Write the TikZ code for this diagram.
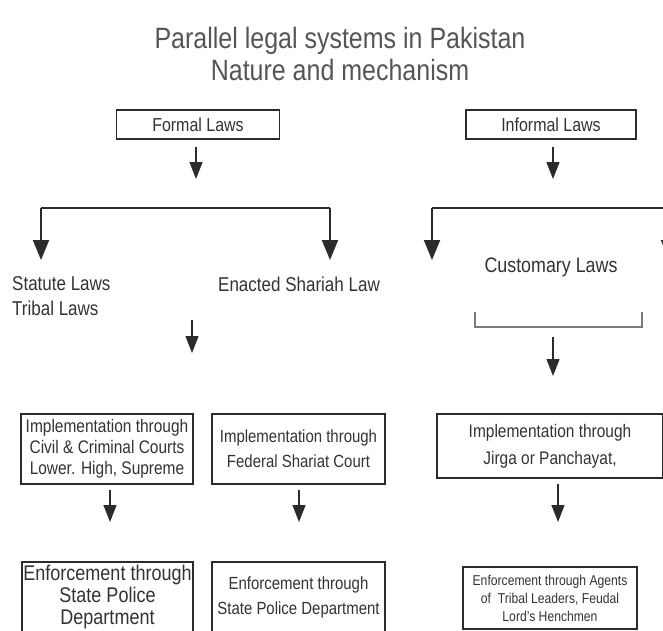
\documentclass[tikz,border=0pt]{standalone}
\usepackage{fontspec}
\setmainfont[FakeStretch=0.85]{Liberation Sans}
\usetikzlibrary{arrows.meta}
\definecolor{ink}{HTML}{2B2B2B}
\definecolor{txt}{HTML}{333333}
\definecolor{ttlgray}{HTML}{555555}
\definecolor{brkgray}{HTML}{7A7A7A}

\begin{document}
\begin{tikzpicture}[x=1pt, y=-1pt,
    lawbox/.style={rectangle, draw=ink, line width=1.3pt, inner sep=1pt,
                   align=center, text=txt, font=\fontsize{18.2}{21}\selectfont},
    lbl/.style={inner sep=0pt, text=txt, font=\fontsize{20}{25}\selectfont},
    arrbig/.style={-{Triangle[width=16pt,length=20pt]}, line width=2pt, ink},
    arrsmall/.style={-{Triangle[width=13pt,length=17pt]}, line width=1.3pt, ink},
    brk/.style={line width=2pt, ink}
]
\useasboundingbox (0,0) rectangle (663,630);
\clip (0,0) rectangle (663,630);

% title
\node[text=ttlgray, align=center, font=\fontsize{29.4}{32}\selectfont] (title) at (340,54)
  {Parallel legal systems in Pakistan\\Nature and mechanism};

% top boxes
\node[lawbox, minimum width=163pt, minimum height=29pt, font=\fontsize{18.8}{20}\selectfont] (formal) at (198,124.5) {Formal Laws};
\node[lawbox, minimum width=170pt, minimum height=29pt, font=\fontsize{18.8}{20}\selectfont] (informal) at (551,124.5) {Informal Laws};

\coordinate (formaltip) at (196,179);
\coordinate (informaltip) at (553,179);
\draw[arrsmall, shorten <=7pt] (formal.south -| formaltip) -- (formaltip);
\draw[arrsmall, shorten <=7pt] (informal.south -| informaltip) -- (informaltip);

% left branch
\coordinate (fbl) at (41,208);
\coordinate (fbr) at (330,208);
\coordinate (fbltip) at (41,260);
\coordinate (fbrtip) at (330,260);
\draw[brk] (fbl) -- (fbr);
\draw[arrbig] (fbl) -- (fbltip);
\draw[arrbig] (fbr) -- (fbrtip);

% right branch
\coordinate (ibl) at (432,208);
\coordinate (ibr) at (669,208);
\coordinate (ibltip) at (432,260);
\coordinate (ibrtip) at (669,260);
\draw[brk] (ibl) -- (ibr);
\draw[arrbig] (ibl) -- (ibltip);
\draw[arrbig] (ibr) -- (ibrtip);

% law labels
\node[lbl, anchor=west, align=left] (statute) at (12,296) {Statute Laws\\Tribal Laws};
\node[lbl, anchor=west] (enacted) at (218,284) {Enacted Shariah Law};
\node[lbl, font=\fontsize{21}{24}\selectfont] (customary) at (551,267) {Customary Laws};

\coordinate (lawtop) at (192,320);
\coordinate (lawtip) at (192,353);
\draw[arrsmall] (lawtop) -- (lawtip);

\coordinate (cbl) at (475,312);
\coordinate (cbr) at (642,312);
\draw[brk, brkgray] (cbl) |- (cbr |- 0,327) -- (cbr);
\coordinate (custop) at (553,337);
\coordinate (custip) at (553,376);
\draw[arrsmall] (custop) -- (custip);

% implementation
\node[lawbox, minimum width=172pt, minimum height=70pt] (imp1) at (107,449)
  {Implementation through\\Civil \& Criminal Courts\\Lower. High, Supreme};
\node[lawbox, minimum width=173pt, minimum height=70pt, font=\fontsize{17.6}{25}\selectfont] (imp2) at (298.5,449)
  {Implementation through\\Federal Shariat Court};
\node[lawbox, minimum width=226pt, minimum height=64pt, font=\fontsize{18.2}{27}\selectfont] (imp3) at (550,446)
  {Implementation through\\Jirga or Panchayat,};

\draw[arrsmall, shorten <=5pt] (imp1.south -| 110,0) -- (110,522);
\draw[arrsmall, shorten <=5pt] (imp2.south -| 299,0) -- (299,522);
\draw[arrsmall, shorten <=5pt] (imp3.south -| 558,0) -- (558,522);

% enforcement
\node[lawbox, minimum width=171pt, minimum height=70pt, font=\fontsize{21.2}{22}\selectfont] (enf1) at (107.5,597)
  {Enforcement through\\State Police\\Department};
\node[lawbox, minimum width=173pt, minimum height=70pt, font=\fontsize{17.6}{25}\selectfont] (enf2) at (298.5,597)
  {Enforcement through\\State Police Department};
\node[lawbox, minimum width=174pt, minimum height=62pt, font=\fontsize{14.3}{18}\selectfont] (enf3) at (550,598)
  {Enforcement through Agents\\of\ \ Tribal Leaders, Feudal\\Lord's Henchmen};
\end{tikzpicture}
\end{document}
